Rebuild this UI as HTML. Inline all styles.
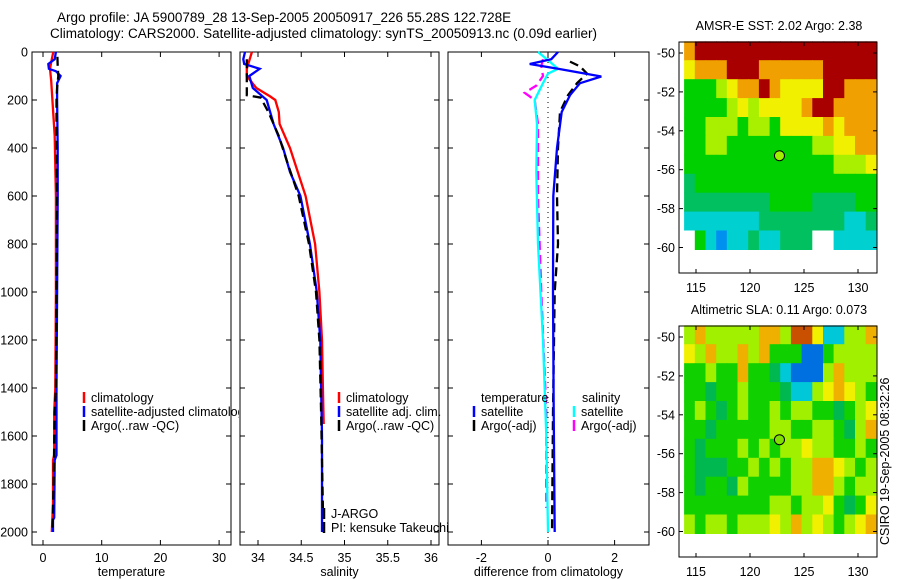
<!DOCTYPE html>
<html><head><meta charset="utf-8">
<style>
html,body{margin:0;padding:0;background:#fff;}
svg{display:block;font-family:"Liberation Sans",sans-serif;}
text{font-size:12.5px;fill:#000;}
</style></head>
<body>
<svg id="fig" width="900" height="580" viewBox="0 0 900 580">
<defs><clipPath id="clip1"><rect x="0" y="0" width="239" height="580"/></clipPath></defs>
<text x="57" y="22" style="font-size:13.5px">Argo profile: JA 5900789_28 13-Sep-2005 20050917_226 55.28S 122.728E</text>
<text x="50" y="38" style="font-size:13.5px">Climatology: CARS2000. Satellite-adjusted climatology: synTS_20050913.nc (0.09d earlier)</text>
<text transform="translate(889,545) rotate(-90)" style="font-size:12.5px">CSIRO 19-Sep-2005 08:32:26</text>
</svg>
<script>
// ---------- data ----------
const depthTicks=[0,200,400,600,800,1000,1200,1400,1600,1800,2000];
const tempTicks=[0,10,20,30];
const salTicks=[34,34.5,35,35.5,36];
const salTickLabels=["34","34.5","35","35.5","36"];
const diffTicks=[-2,0,2];
const lonTicks=[115,120,125,130];
const latTicks=[-50,-52,-54,-56,-58,-60];

const tClimD=[0,30,70,120,200,350,600,1000,1400,1500,1680,1700,1880,2000];
const tClimV=[1.75,1.5,1.2,1.4,1.6,2.0,2.2,2.2,2.1,1.9,1.9,1.7,1.7,1.5];
const tSatD=[0,30,50,70,80,100,130,200,400,600,1000,1400,1680,1700,1940,1950,2000];
const tSatV=[2.2,2.0,0.9,1.0,2.2,3.0,2.4,2.4,2.5,2.5,2.4,2.3,2.3,2.0,1.9,1.7,1.7];
const tArgoD=[20,60,100,150,200,400,600,1000,1400,1500,1800,2000];
const tArgoV=[2.45,2.5,2.6,2.4,2.3,2.3,2.4,2.3,2.2,2.0,1.8,1.6];

const sClimD=[0,70,100,150,185,200,250,300,400,500,600,800,1000,1200,1400,1550];
const sClimV=[33.93,33.87,33.87,33.98,34.14,34.2,34.24,34.25,34.37,34.46,34.55,34.66,34.71,34.74,34.75,34.76];
const sSatD=[0,30,50,70,100,150,200,300,400,500,600,800,1000,1200,1400,1600,2000];
const sSatV=[33.85,33.83,33.84,34.02,33.9,33.94,34.1,34.18,34.29,34.37,34.49,34.6,34.68,34.72,34.73,34.74,34.74];
const sArgoD=[30,100,180,190,250,350,450,600,800,1000,1200,1500,1900];
const sArgoV=[33.87,33.87,33.87,34.03,34.12,34.24,34.33,34.47,34.59,34.67,34.71,34.73,34.75];

const dTSatD=[0,30,50,70,102,130,180,250,400,600,1000,1500,2000];
const dTSatV=[0.3,0.1,-0.55,0.3,1.6,0.96,0.66,0.41,0.27,0.16,0.15,0.17,0.2];
const dTArgoD=[40,60,90,130,180,250,400,600,800,1000,1500,2000];
const dTArgoV=[0.66,0.96,1.17,0.87,0.6,0.36,0.3,0.27,0.3,0.2,0.15,0.12];
const dSSatD=[0,40,70,90,130,200,300,500,800,1200,1600,2000];
const dSSatV=[-0.3,0.05,0.3,0,-0.15,-0.4,-0.33,-0.35,-0.3,-0.15,-0.05,0];
const dSArgoD=[30,60,100,140,170,200,300,600,1000,1500,1900];
const dSArgoV=[-0.15,-0.2,-0.15,-0.35,-0.7,-0.4,-0.3,-0.3,-0.2,-0.05,-0.05];

const sstGrid=[
"ORRRRRRRRRRRRRRRRR",
"YOOORRROOOOOORRRRR",
"GGGLYOOROYYYYRROOO",
"GGGGLYLYYYYORROOOO",
"GGLLLGLLGYYYYOYOOO",
"GGLLGGGGGGGGLLYYOO",
"GGGGGGGGGGGGGGLLLY",
"gGGGGGGGGGGGGGGGGG",
"ggggggggGGGGggggGG",
"CCCCCCCggggggggCCg",
"WGCBCCgCCgggWWCCCC"];
const slaGrid=[
"LOLLLLLOOLRRYCCLLO",
"YLOLLOLOGGGBBGLLLL",
"GGLGGOGGgCBBBLOLLL",
"GGgGGLGGGgCCLYOYLG",
"GLGgGLGGLGLLGGgGLY",
"GGgGGGGGLLGGLLGgLO",
"GgGGGLGLGLLYLLGGLG",
"GgggGGLGLGLLOOYLGL",
"GgGGgLGGGGLLOOLGLL",
"GGGGGGGGLLGLLYGgGY",
"LGLLGLLLYLOLYLGLYO"];
const argoLon=122.728, argoLat=-55.28;

// ---------- drawing ----------
const NS="http://www.w3.org/2000/svg";
const svg=document.getElementById('fig');
function el(tag,attrs,parent){const e=document.createElementNS(NS,tag);for(const k in attrs)e.setAttribute(k,attrs[k]);(parent||svg).appendChild(e);return e;}
function txt(x,y,s,anchor,parent){const t=el('text',{x:x,y:y,'text-anchor':anchor||'start'},parent);t.textContent=s;return t;}
const yD=d=>52+0.24*d;

function panel(name,x0,x1,xs,ticks,labels,xlabel,showY){
  const g=el('g',{});
  
  
  const r=el('rect',{x:x0,y:52,width:x1-x0,height:493,fill:'none',stroke:'#000','stroke-width':1},g);
  
  
  ticks.forEach((v,i)=>{const x=xs(v);
    el('line',{x1:x,x2:x,y1:545,y2:540,stroke:'#000'},g);
    el('line',{x1:x,x2:x,y1:52,y2:57,stroke:'#000'},g);
    const t=txt(x,562,labels[i],'middle',g);
    
    
  });
  depthTicks.forEach(d=>{const y=yD(d);
    el('line',{x1:x0,x2:x0+5,y1:y,y2:y,stroke:'#000'},g);
    el('line',{x1:x1,x2:x1-5,y1:y,y2:y,stroke:'#000'},g);
    if(showY){const t=txt(x0-4,y+4.5,String(d),'end',g);
      
      }
  });
  const xl=txt((x0+x1)/2,576,xlabel,'middle',g);
  
  
  return g;
}
function line(g,D,V,xs,color,dash,name){
  const p=D.map((d,i)=>xs(V[i]).toFixed(1)+','+yD(d).toFixed(1)).join(' ');
  const l=el('polyline',{points:p,fill:'none',stroke:color,'stroke-width':2.3,'stroke-dasharray':dash||'none'},g);
  
  
}
function legend(g,x,y,color,label,name){
  el('line',{x1:x,x2:x,y1:y-10,y2:y+1,stroke:color,'stroke-width':2.5},g);
  const t=txt(x+7,y,label,'start',g);
  
  
}

// Panel 1 temperature
const xT=v=>43+5.87*v;
const p1=panel('temperature-panel',32,231,xT,tempTicks,tempTicks.map(String),'temperature',true);
line(p1,tClimD,tClimV,xT,'#f00',null,'temp-climatology-line');
line(p1,tSatD,tSatV,xT,'#00f',null,'temp-satellite-line');
line(p1,tArgoD,tArgoV,xT,'#000','9 5','temp-argo-line');
const lg1=el('g',{'clip-path':'url(#clip1)'},p1);
legend(lg1,84,402,'#f00','climatology','legend-climatology');
legend(lg1,84,416,'#00f','satellite-adjusted climatology','legend-satellite');
legend(lg1,84,430,'#000','Argo(..raw -QC)','legend-argo');

// Panel 2 salinity
const xS=v=>258+86.5*(v-34);
const p2=panel('salinity-panel',240,439,xS,salTicks,salTickLabels,'salinity',false);
line(p2,sClimD,sClimV,xS,'#f00',null,'sal-climatology-line');
line(p2,sSatD,sSatV,xS,'#00f',null,'sal-satellite-line');
line(p2,sArgoD,sArgoV,xS,'#000','9 5','sal-argo-line');
legend(p2,339,402,'#f00','climatology','legend-climatology');
legend(p2,339,416,'#00f','satellite adj. clim.','legend-satellite');
legend(p2,339,430,'#000','Argo(..raw -QC)','legend-argo');
legend(p2,324,518,'#000','J-ARGO','pi-institution');
legend(p2,324,532,'#000','PI: kensuke Takeuchi','pi-name');

// Panel 3 difference
const xF=v=>548+33.3*v;
const p3=panel('difference-panel',448,649,xF,diffTicks,diffTicks.map(String),'difference from climatology',false);
el('line',{x1:xF(0),x2:xF(0),y1:52,y2:545,stroke:'#000','stroke-dasharray':'1 4'},p3);
line(p3,dSArgoD,dSArgoV,xF,'#f0f','9 5','sal-argo-diff-line');
line(p3,dSSatD,dSSatV,xF,'#0ff',null,'sal-satellite-diff-line');
line(p3,dTArgoD,dTArgoV,xF,'#000','9 5','temp-argo-diff-line');
line(p3,dTSatD,dTSatV,xF,'#00f',null,'temp-satellite-diff-line');
{const t=txt(481,402,'temperature','start',p3);}
{const t=txt(582,402,'salinity','start',p3);}
legend(p3,474,416,'#00f','satellite','legend-temp-satellite');
legend(p3,474,430,'#000','Argo(-adj)','legend-temp-argo');
legend(p3,574,416,'#0ff','satellite','legend-sal-satellite');
legend(p3,574,430,'#f0f','Argo(-adj)','legend-sal-argo');

// Maps
const palette={R:'#a80000',O:'#f0a000',Y:'#f0f000',L:'#a8f000',G:'#00d000',g:'#00c060',C:'#00d0d0',B:'#0090f0',W:'#ffffff'};
const slaPalette={R:'#c85000',O:'#f0b000',Y:'#f0f000',L:'#a0f000',G:'#10d000',g:'#00b850',C:'#00c8d8',B:'#0070e0',W:'#ffffff'};
function map(name,top,grid,pal,title,dotColor){
  const g=el('g',{});
  
  
  const lonX=l=>696+10.8*(l-115);
  const latY=a=>top+11+19.45*(-50-a);
  const rows=grid.length, cols=grid[0].length;
  const lat0=-49.4, lat1=-60.1, lon0=113.9, lon1=131.7;
  for(let i=0;i<rows;i++)for(let j=0;j<cols;j++){
    const la=lat0+(lat1-lat0)*i/rows, lb=lat0+(lat1-lat0)*(i+1)/rows;
    const xa=lon0+(lon1-lon0)*j/cols, xb=lon0+(lon1-lon0)*(j+1)/cols;
    const c=el('rect',{x:lonX(xa).toFixed(1),y:latY(la).toFixed(1),width:(lonX(xb)-lonX(xa)+0.6).toFixed(1),height:(latY(lb)-latY(la)+0.6).toFixed(1),fill:pal[grid[i][j]]},g);
    
    
  }
  const fr=el('rect',{x:679,y:top,width:198,height:231,fill:'none',stroke:'#000'},g);
  
  
  lonTicks.forEach(l=>{const x=lonX(l);
    el('line',{x1:x,x2:x,y1:top,y2:top+4,stroke:'#000'},g);
    el('line',{x1:x,x2:x,y1:top+231,y2:top+227,stroke:'#000'},g);
    const t=txt(x,top+250,String(l),'middle',g);
    
    });
  latTicks.forEach(a=>{const y=latY(a);
    el('line',{x1:877,x2:873,y1:y,y2:y,stroke:'#000'},g);
    el('line',{x1:679,x2:683,y1:y,y2:y,stroke:'#000'},g);
    const t=txt(675,y+4.5,String(a),'end',g);
    
    });
  const dot=el('circle',{cx:lonX(argoLon),cy:latY(argoLat),r:5,fill:dotColor,stroke:'#000','stroke-width':1},g);
  
  
  const tt=txt(779,top-12,title,'middle',g);
  
  
}
map('sst-map',42,sstGrid,palette,'AMSR-E SST: 2.02 Argo: 2.38','#a0f000');
map('sla-map',326,slaGrid,slaPalette,'Altimetric SLA: 0.11 Argo: 0.073','#80e000');
</script>
</body></html>
